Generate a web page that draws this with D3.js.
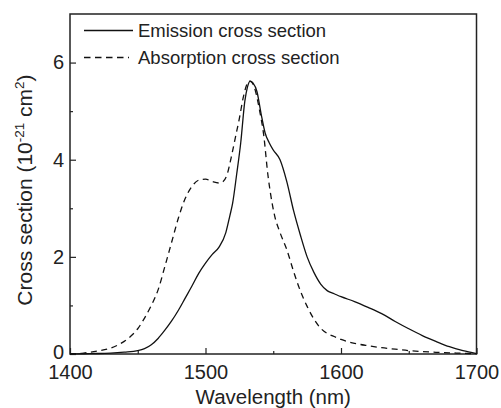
<!DOCTYPE html>
<html>
<head>
<meta charset="utf-8">
<script src="https://cdn.jsdelivr.net/npm/d3@7"></script>
<style>
  body { margin: 0; background: #fff; }
  svg { display: block; font-family: "Liberation Sans", Arial, Helvetica, sans-serif; }
  .tick text { fill: #222; }
</style>
</head>
<body>
<div id="plot"></div>
<script>
const CANVAS_WIDTH  = 501;
const CANVAS_HEIGHT = 408;

const LEFT   = 70;
const RIGHT  = 476.5;
const TOP    = 14;
const BOTTOM = 354;

// wavelength (nm) and cross section (10^-21 cm^2)
const emissionWavelength = [1400, 1410, 1420, 1430, 1440, 1450, 1455, 1460, 1465, 1470,
                            1475, 1480, 1485, 1490, 1495, 1500, 1505, 1510, 1515, 1518,
                            1520, 1523, 1526, 1529, 1531, 1533, 1535, 1538, 1541, 1544,
                            1547, 1550, 1555, 1560, 1565, 1570, 1575, 1580, 1585, 1590,
                            1595, 1600, 1610, 1620, 1630, 1640, 1650, 1660, 1670, 1680,
                            1690, 1700];
const emissionValue      = [0.0, 0.005, 0.01, 0.02, 0.04, 0.07, 0.11, 0.19, 0.32, 0.49,
                            0.68, 0.9, 1.15, 1.4, 1.66, 1.87, 2.05, 2.2, 2.5, 2.85,
                            3.1, 3.7, 4.35, 5.2, 5.5, 5.62, 5.58, 5.4, 4.95, 4.55,
                            4.35, 4.2, 4.0, 3.55, 2.95, 2.45, 2.0, 1.68, 1.44, 1.3,
                            1.24, 1.18, 1.08, 0.96, 0.83, 0.67, 0.52, 0.38, 0.26, 0.15,
                            0.07, 0.01];

const absorptionWavelength = [1400, 1410, 1420, 1430, 1435, 1440, 1445, 1450, 1455, 1460,
                              1465, 1470, 1475, 1480, 1485, 1490, 1495, 1500, 1505, 1510,
                              1513, 1516, 1519, 1522, 1525, 1528, 1531, 1532, 1534, 1537,
                              1540, 1543, 1546, 1548, 1551, 1555, 1560, 1565, 1570, 1575,
                              1580, 1585, 1590, 1595, 1600, 1610, 1620, 1630, 1640, 1650,
                              1660, 1670, 1680, 1690, 1700];
const absorptionValue      = [0.005, 0.02, 0.06, 0.12, 0.18, 0.26, 0.37, 0.52, 0.74, 1.0,
                              1.32, 1.8, 2.3, 2.8, 3.2, 3.45, 3.58, 3.6, 3.55, 3.52,
                              3.55, 3.7, 4.05, 4.45, 4.85, 5.3, 5.58, 5.62, 5.6, 5.4,
                              5.0, 4.5, 3.7, 3.3, 2.85, 2.5, 2.15, 1.7, 1.3, 0.98,
                              0.72, 0.53, 0.42, 0.36, 0.3, 0.22, 0.17, 0.13, 0.1, 0.07,
                              0.05, 0.035, 0.025, 0.015, 0.005];

const X_TICKS = [1400, 1500, 1600, 1700];
const X_MINOR = [1450, 1550, 1650];
const Y_TICKS = [0, 2, 4, 6];
const Y_MINOR = [1, 3, 5];

const LEGEND = [
  {label: "Emission cross section",   dash: null},
  {label: "Absorption cross section", dash: "6.5,4.5"}
];

var svg = d3.select("#plot")
            .append("svg")
            .attr("width", CANVAS_WIDTH)
            .attr("height", CANVAS_HEIGHT);

var xScale = d3.scaleLinear().domain([1400, 1700]).range([LEFT, RIGHT]);
var yScale = d3.scaleLinear().domain([0, 7]).range([BOTTOM, TOP]);

// axes, ticks pointing inward
var xAxis = svg.append("g")
               .attr("transform", "translate(0," + BOTTOM + ")")
               .call(d3.axisBottom(xScale).tickValues(X_TICKS).tickSize(-6).tickPadding(11)
                       .tickFormat(d3.format("d")));
var xMinor = svg.append("g")
                .attr("transform", "translate(0," + BOTTOM + ")")
                .call(d3.axisBottom(xScale).tickValues(X_MINOR).tickSize(-3).tickFormat(""));

var yAxis = svg.append("g")
               .attr("transform", "translate(" + LEFT + ",0)")
               .call(d3.axisLeft(yScale).tickValues(Y_TICKS).tickSize(-6).tickPadding(6)
                       .tickFormat(d3.format("d")));
var yMinor = svg.append("g")
                .attr("transform", "translate(" + LEFT + ",0)")
                .call(d3.axisLeft(yScale).tickValues(Y_MINOR).tickSize(-3).tickFormat(""));

[xAxis, xMinor, yAxis, yMinor].forEach(function(g) {
  g.select(".domain").remove();
  g.selectAll(".tick line").attr("stroke", "#222").attr("stroke-width", 1.2);
});
svg.selectAll(".tick text")
   .attr("font-size", 20)
   .attr("font-family", "'Liberation Sans', Arial, sans-serif");
// the "0" sits just above the "1400" as in the picture
yAxis.selectAll(".tick text").filter(function(d) { return d === 0; }).attr("dy", "0.2em");

// frame
svg.append("rect")
   .attr("x", LEFT)
   .attr("y", TOP)
   .attr("width", RIGHT - LEFT)
   .attr("height", BOTTOM - TOP)
   .attr("fill", "none")
   .attr("stroke", "#222")
   .attr("stroke-width", 1.5);

// curves
var line = d3.line()
             .x(function(d) { return xScale(d[0]); })
             .y(function(d) { return yScale(d[1]); })
             .curve(d3.curveMonotoneX);

svg.append("path")
   .datum(d3.zip(absorptionWavelength, absorptionValue))
   .attr("d", line)
   .attr("fill", "none")
   .attr("stroke", "#111")
   .attr("stroke-width", 1.3)
   .attr("stroke-dasharray", "6,4.5");

svg.append("path")
   .datum(d3.zip(emissionWavelength, emissionValue))
   .attr("d", line)
   .attr("fill", "none")
   .attr("stroke", "#111")
   .attr("stroke-width", 1.3);

// legend
for (var i = 0; i < LEGEND.length; i++) {
  var ly = 30.5 + i * 27;
  svg.append("line")
     .attr("x1", 84).attr("x2", i == 0 ? 133 : 129)
     .attr("y1", ly).attr("y2", ly)
     .attr("stroke", "#111")
     .attr("stroke-width", 1.3)
     .attr("stroke-dasharray", LEGEND[i].dash);
  svg.append("text")
     .attr("x", 138)
     .attr("y", ly + 6.5)
     .attr("font-size", 18.5)
     .attr("fill", "#222")
     .text(LEGEND[i].label);
}

// axis titles
svg.append("text")
   .attr("x", (LEFT + RIGHT) / 2)
   .attr("y", 404)
   .attr("text-anchor", "middle")
   .attr("font-size", 20.5)
   .attr("fill", "#222")
   .text("Wavelength (nm)");

var yTitle = svg.append("text")
                .attr("transform", "translate(32,190) rotate(-90)")
                .attr("text-anchor", "middle")
                .attr("font-size", 21)
                .attr("fill", "#222");
yTitle.append("tspan").text("Cross section (10");
yTitle.append("tspan").attr("font-size", 13.5).attr("dy", -8).text("-21");
yTitle.append("tspan").attr("dy", 8).text(" cm");
yTitle.append("tspan").attr("font-size", 13.5).attr("dy", -8).text("2");
yTitle.append("tspan").attr("dy", 8).text(")");
</script>
</body>
</html>
